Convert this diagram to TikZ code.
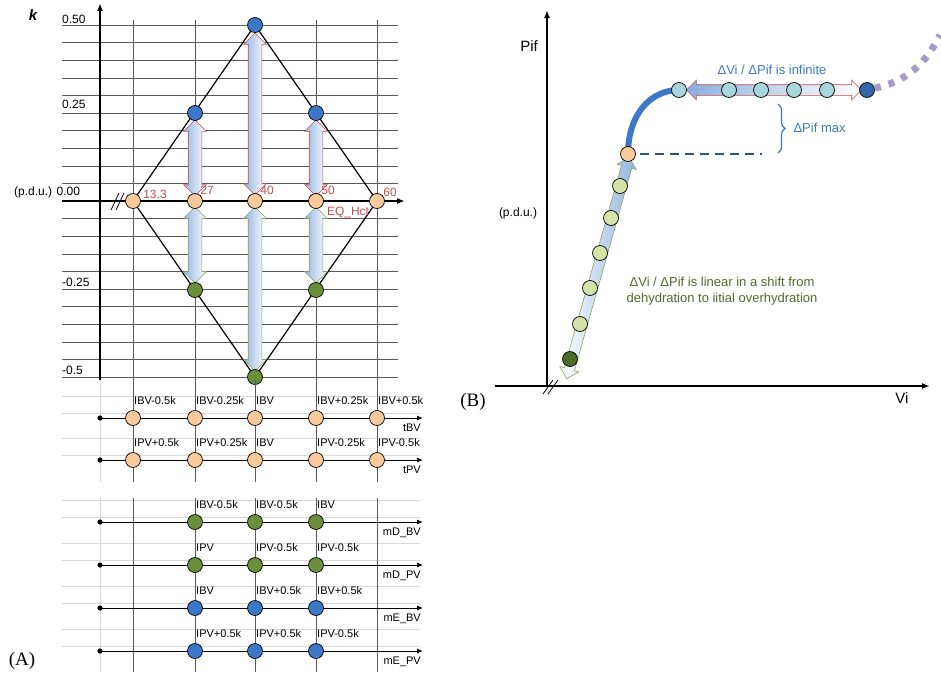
\documentclass[tikz,border=0pt]{standalone}
\usepackage{fontspec}
\setmainfont{Liberation Sans}
\newfontfamily\seriffont{Liberation Serif}
\usetikzlibrary{shapes.arrows,decorations.pathreplacing,arrows.meta}
\definecolor{cor}{HTML}{F9CB9C}
\definecolor{cbl}{HTML}{3D78C8}
\definecolor{cgr}{HTML}{6B8E3A}
\definecolor{clg}{HTML}{D5E3A8}
\definecolor{cdg}{HTML}{4F6B2A}
\definecolor{cte}{HTML}{A9D6DA}
\definecolor{cdr}{HTML}{C0504D}
\definecolor{cpu}{HTML}{A99BC8}
\tikzset{
  dot/.style={circle,draw=black,line width=0.7pt,minimum size=15pt,inner sep=0pt},
  od/.style={dot,fill=cor}, bd/.style={dot,fill=cbl}, gd/.style={dot,fill=cgr},
  lab/.style={font=\fontsize{11}{12}\selectfont,anchor=south west,inner sep=1pt},
  rlab/.style={font=\fontsize{12}{13}\selectfont,text=cdr,inner sep=0pt},
  tick/.style={font=\fontsize{12}{13}\selectfont,inner sep=0pt},
  grid/.style={draw=black!65,line width=0.5pt},
  lgrid/.style={draw=black!15,line width=0.6pt},
  ax/.style={line width=1.6pt,-{Latex[length=8pt,width=6pt]}},
  dar/.style={double arrow,double arrow head extend=4.5pt,inner xsep=0pt,inner ysep=6.5pt,left color=cbl!55,right color=white,line width=0.6pt},
}
\begin{document}
\begin{tikzpicture}[x=1pt,y=-1pt]
\useasboundingbox (0,0) rectangle (941,680);
% ---- panel A grid
\foreach \i in {0,...,20}{\draw[grid] (62,{25+17.6*\i}) -- (398,{25+17.6*\i});}
\foreach \x in {133,195,255,316,377}{\draw[grid] (\x,20) -- (\x,380);}
\draw[ax] (100,380) -- (100,3);
\draw[ax] (62,201) -- (405,201);
\draw[line width=0.8pt] (111,210) -- (119,193) (116,210) -- (124,193);
% ticks
\node[tick,anchor=west] at (62,19) {0.50};
\node[tick,anchor=west] at (62,104) {0.25};
\node[tick,anchor=west] at (14,192) {(p.d.u.) 0.00};
\node[tick,anchor=west] at (62,282) {-0.25};
\node[tick,anchor=west] at (62,370) {-0.5};
\node[font=\bfseries\itshape\fontsize{15}{16}\selectfont] at (33,15) {k};
% diamond
\draw[line width=1.2pt] (133,201) -- (255,25) -- (377,201) -- (255,377) -- cycle;
% arrows
\node[dar,draw=cdr,rotate=90,minimum height=76pt] at (195,158) {};
\node[dar,draw=cdr,rotate=90,minimum height=76pt] at (316,158) {};
\node[dar,draw=cdr,rotate=90,minimum height=162pt] at (255,114) {};
\node[dar,draw=cgr!80,rotate=90,minimum height=76pt] at (195,245) {};
\node[dar,draw=cgr!80,rotate=90,minimum height=76pt] at (316,245) {};
\node[dar,draw=cgr!80,rotate=90,minimum height=164pt] at (255,289) {};
% nodes
\node[od] (o1) at (133,201) {};
\node[od] (o2) at (195,201) {};
\node[od] (o3) at (255,201) {};
\node[od] (o4) at (316,201) {};
\node[od] (o5) at (377,201) {};
\node[bd] (b1) at (195,113) {};
\node[bd] (b2) at (255,25) {};
\node[bd] (b3) at (316,113) {};
\node[gd] (g1) at (195,290) {};
\node[gd] (g2) at (255,377) {};
\node[gd] (g3) at (316,290) {};
\node[rlab] at (155,194) {13.3};
\node[rlab] at (207,190) {27};
\node[rlab] at (267,190) {40};
\node[rlab] at (328,190) {50};
\node[rlab] at (390,192) {60};
\node[rlab] at (348,212) {EQ\_Hct};
% ---- lower part of A
\foreach \y in {418,460,522,565,608,651}{\draw[lgrid] (62,\y-22) -- (420,\y-22) (62,\y-5) -- (420,\y-5);}
\draw[lgrid] (100,380) -- (100,482) (100,498) -- (100,672);
\foreach \x in {133,195,255,316,377}{\draw[grid] (\x,380) -- (\x,482) (\x,498) -- (\x,672);}
\foreach \y/\n in {418/tBV,460/tPV,522/mD\_BV,565/mD\_PV,608/mE\_BV,651/mE\_PV}{
  \fill (100,\y) circle (2.6pt);
  \draw[line width=1pt,-{Latex[length=6pt,width=5pt]}] (100,\y) -- (423,\y);
  \node[font=\fontsize{11}{12}\selectfont,anchor=north east,inner sep=1pt] at (422,\y+5) {\n};}
\foreach \x/\t [count=\k] in {133/IBV-0.5k,195/IBV-0.25k,255/IBV,316/IBV+0.25k,377/IBV+0.5k}{
  \node[od] (t\k) at (\x,418) {}; \node[lab] at (\x,406) {\t};}
\foreach \x/\t [count=\k] in {133/IPV+0.5k,195/IPV+0.25k,255/IBV,316/IPV-0.25k,377/IPV-0.5k}{
  \node[od] (p\k) at (\x,460) {}; \node[lab] at (\x,448) {\t};}
\foreach \x/\t [count=\k] in {195/IBV-0.5k,255/IBV-0.5k,316/IBV}{
  \node[gd] (mdb\k) at (\x,522) {}; \node[lab] at (\x,510) {\t};}
\foreach \x/\t [count=\k] in {195/IPV,255/IPV-0.5k,316/IPV-0.5k}{
  \node[gd] (mdp\k) at (\x,565) {}; \node[lab] at (\x,553) {\t};}
\foreach \x/\t [count=\k] in {195/IBV,255/IBV+0.5k,316/IBV+0.5k}{
  \node[bd] (meb\k) at (\x,608) {}; \node[lab] at (\x,596) {\t};}
\foreach \x/\t [count=\k] in {195/IPV+0.5k,255/IPV+0.5k,316/IPV-0.5k}{
  \node[bd] (mep\k) at (\x,651) {}; \node[lab] at (\x,639) {\t};}
\node[font=\seriffont\fontsize{19}{20}\selectfont] at (22,661) {(A)};
% ---- panel B
\draw[ax] (547,386) -- (547,10);
\draw[ax] (495,386) -- (930,386);
\draw[line width=0.8pt] (543,394) -- (553,380) (548,394) -- (558,380);
\node[font=\fontsize{15}{16}\selectfont] at (529,46) {Pif};
\node[font=\fontsize{12}{13}\selectfont] at (518,213) {(p.d.u.)};
\node[font=\fontsize{15}{16}\selectfont] at (902,398) {Vi};
\node[font=\seriffont\fontsize{19}{20}\selectfont] at (473,402) {(B)};
\node[dar,draw=cgr!80,rotate=74.2,minimum height=230pt,inner ysep=5pt,left color=white,right color=cbl!55] at (598,268) {};
\draw[cbl,line width=6pt] (628,154) .. controls (628,115) and (650,90) .. (679,90);
\draw[cbl!70!black,line width=1.2pt,dash pattern=on 9pt off 6pt] (640,154) -- (762,154);
\node[dar,draw=cdr,minimum height=175pt,inner ysep=5pt,left color=cbl!60,right color=white] at (774,90) {};
\draw[cpu,line width=7pt,dash pattern=on 6pt off 8pt] (875,88) .. controls (905,82) and (925,65) .. (940,35);
\node[dot,fill=cdg] (n0) at (570,359) {};
\foreach \x/\y [count=\k] in {580/324,590/288,600/253,611/218,620/186}{\node[dot,fill=clg] (n\k) at (\x,\y) {};}
\node[od] (n6) at (628,154) {};
\foreach \x [count=\k] in {679,729,761,794,827}{\node[dot,fill=cte] (h\k) at (\x,90) {};}
\node[dot,fill=cbl!85!black] (h6) at (867,90) {};
\draw[cbl,line width=1.2pt,decorate,decoration={brace,amplitude=7pt}] (778,104) -- (778,153);
\node[text=cbl,font=\fontsize{13}{14}\selectfont,anchor=west] at (790,128) {ΔPif max};
\node[text=cbl,font=\fontsize{13}{14}\selectfont] at (772,70) {ΔVi / ΔPif is infinite};
\node[text=cdg,font=\fontsize{13}{16}\selectfont,align=center] at (722,291) {ΔVi / ΔPif is linear in a shift from\\dehydration to iitial overhydration};
\end{tikzpicture}
\end{document}
